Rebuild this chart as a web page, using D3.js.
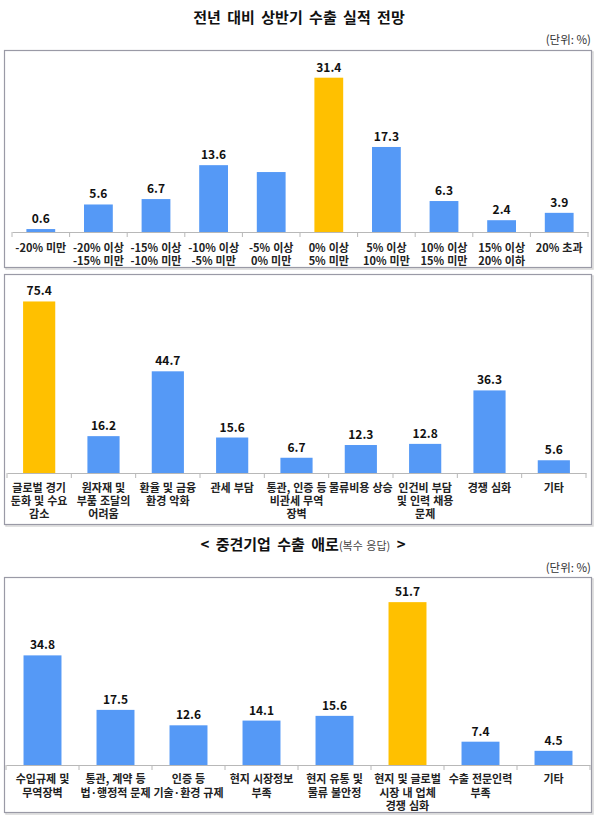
<!DOCTYPE html>
<html><head><meta charset="utf-8">
<script src="https://cdn.jsdelivr.net/npm/d3@7"></script>
<style>
html,body{margin:0;padding:0;background:#fff;}
svg{display:block;font-family:"Noto Sans CJK KR","Noto Sans",sans-serif;}
</style></head>
<body>
<script>
// ---- data ----
const title1 = "전년 대비 상반기 수출 실적 전망";
const unitLabel = "(단위: %)";
const cats1 = ["-20% 미만","-20% 이상\n-15% 미만","-15% 이상\n-10% 미만","-10% 이상\n-5% 미만","-5% 이상\n0% 미만","0% 이상\n5% 미만","5% 이상\n10% 미만","10% 이상\n15% 미만","15% 이상\n20% 이하","20% 초과"];
const vals1 = [0.6,5.6,6.7,13.6,12.2,31.4,17.3,6.3,2.4,3.9];
const shown1 = [true,true,true,true,false,true,true,true,true,true];
const hi1 = [5];

const cats2 = ["글로벌 경기\n둔화 및 수요\n감소","원자재 및\n부품 조달의\n어려움","환율 및 금융\n환경 악화","관세 부담","통관, 인증 등\n비관세 무역\n장벽","물류비용 상승","인건비 부담\n및 인력 채용\n문제","경쟁 심화","기타"];
const vals2 = [75.4,16.2,44.7,15.6,6.7,12.3,12.8,36.3,5.6];
const hi2 = [0];

const title3Main = "< 중견기업 수출 애로";
const title3Sub = "(복수 응답)";
const title3End = " >";
const cats3 = ["수입규제 및\n무역장벽","통관, 계약 등\n법·행정적 문제","인증 등\n기술·환경 규제","현지 시장정보\n부족","현지 유통 및\n물류 불안정","현지 및 글로벌\n시장 내 업체\n경쟁 심화","수출 전문인력\n부족","기타"];
const vals3 = [34.8,17.5,12.6,14.1,15.6,51.7,7.4,4.5];
const hi3 = [5];

const BLUE = "#5599F6", YELLOW = "#FFC000";

const svg = d3.select("body").append("svg").attr("width",597).attr("height",816);

// titles
svg.append("text").attr("x",299).attr("y",23).attr("text-anchor","middle").attr("word-spacing",3)
  .attr("font-size",15).attr("font-weight","bold").attr("fill","#111").text(title1);
svg.append("text").attr("x",591).attr("y",44).attr("text-anchor","end")
  .attr("font-size",11.5).attr("fill","#333").text(unitLabel);

const t3 = svg.append("text").attr("x",303).attr("y",550).attr("text-anchor","middle").attr("fill","#111").attr("word-spacing",3);
t3.append("tspan").attr("font-size",15).attr("font-weight","bold").text(title3Main);
t3.append("tspan").attr("font-size",11).attr("fill","#444").attr("word-spacing",1).text(title3Sub);
t3.append("tspan").attr("font-size",15).attr("font-weight","bold").text(title3End);
svg.append("text").attr("x",591).attr("y",572).attr("text-anchor","end")
  .attr("font-size",11.5).attr("fill","#333").text(unitLabel);

function panel(o){
  // frame
  svg.append("rect").attr("x",o.bx+1.5).attr("y",o.by+1.5).attr("width",o.bw).attr("height",o.bh)
    .attr("fill","none").attr("stroke","#d8d8d8").attr("stroke-width",1.5);
  svg.append("rect").attr("x",o.bx).attr("y",o.by).attr("width",o.bw).attr("height",o.bh)
    .attr("fill","#fff").attr("stroke","#9a9aa6").attr("stroke-width",1.2);
  const x = d3.scaleBand().domain(o.cats).range([o.x0,o.x1]).paddingInner(o.pad).paddingOuter(o.pad/2);
  const xb = d3.scaleBand().domain(o.cats).range([o.x0,o.x1]);
  const y = d3.scaleLinear().domain([0,o.ymax]).range([o.base,o.ytop]);
  const g = svg.append("g");
  g.selectAll("rect.bar").data(o.vals).join("rect").attr("class","bar")
    .attr("x",(d,i)=>x(o.cats[i])).attr("width",x.bandwidth())
    .attr("y",d=>y(d)).attr("height",d=>y(0)-y(d))
    .attr("fill",(d,i)=>o.hi.includes(i)?YELLOW:BLUE);
  g.selectAll("text.val").data(o.vals).join("text").attr("class","val")
    .attr("x",(d,i)=>x(o.cats[i])+x.bandwidth()/2).attr("y",d=>y(d)-6)
    .attr("text-anchor","middle").attr("font-size",12).attr("font-weight","bold").attr("fill","#111")
    .text((d,i)=> (o.shown && !o.shown[i]) ? "" : d.toFixed(1));
  // axis
  const ax = g.append("g").attr("transform",`translate(0,${o.base})`)
    .call(d3.axisBottom(xb).tickSize(0).tickFormat(""));
  ax.select(".domain").attr("stroke","#b8b8b8").attr("stroke-width",1);
  const bounds = o.cats.map(c=>xb(c)).concat([o.x1]);
  g.selectAll("line.tk").data(bounds).join("line").attr("class","tk")
    .attr("x1",d=>d).attr("x2",d=>d).attr("y1",o.base).attr("y2",o.base+5)
    .attr("stroke","#b8b8b8").attr("stroke-width",1);
  // category labels
  const lab = g.selectAll("text.cat").data(o.cats).join("text").attr("class","cat")
    .attr("text-anchor","middle").attr("font-size",11).attr("font-weight","bold").attr("fill","#222")
    .attr("word-spacing",0.5);
  lab.each(function(c){
    const lines = c.split("\n");
    const t = d3.select(this);
    lines.forEach((ln,k)=>{
      t.append("tspan").attr("x",xb(c)+xb.bandwidth()/2).attr("y",o.base+o.lab0+k*o.lh).text(ln);
    });
  });
}

panel({bx:4.5,by:50.5,bw:587,bh:217,x0:12,x1:588,cats:cats1,vals:vals1,shown:shown1,hi:hi1,
  pad:0.5,ymax:35,base:232,ytop:60,lab0:20,lh:12.5});
panel({bx:4.5,by:274.5,bw:587,bh:250,x0:7,x1:586,cats:cats2,vals:vals2,hi:hi2,
  pad:0.5,ymax:80,base:473,ytop:291,lab0:19,lh:12.8});
panel({bx:4.5,by:577.5,bw:587,bh:235,x0:6,x1:590,cats:cats3,vals:vals3,hi:hi3,
  pad:0.48,ymax:60,base:765,ytop:576,lab0:18,lh:13.5});
</script>
</body></html>
